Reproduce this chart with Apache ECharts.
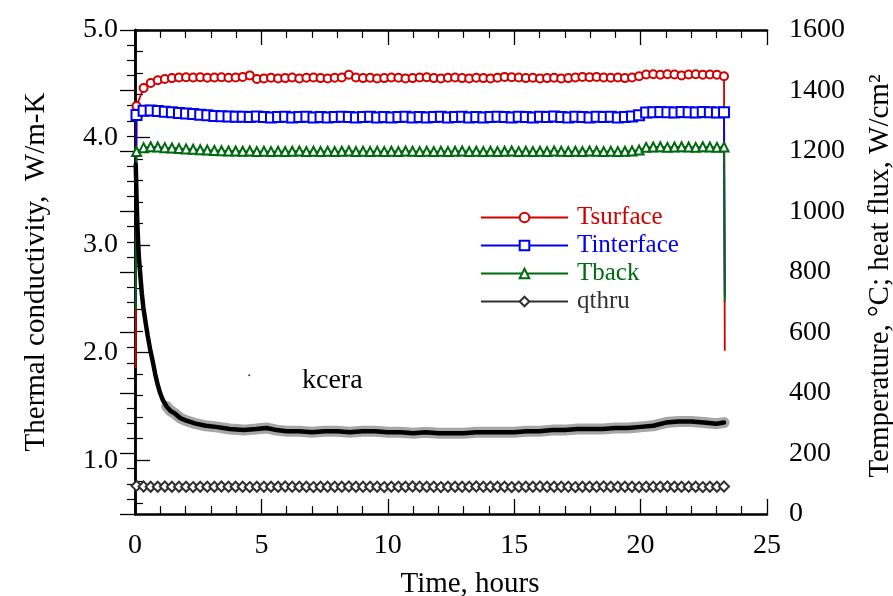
<!DOCTYPE html>
<html>
<head>
<meta charset="utf-8">
<title>kcera</title>
<script src="https://cdn.jsdelivr.net/npm/echarts@6/dist/echarts.min.js"></script>
<style>
  html, body { margin: 0; padding: 0; background: #fff; }
  #main { width: 893px; height: 596px; }
</style>
</head>
<body>
<div id="main"></div>
<script>
// marker times (hours)
var markTime = [0.06,0.34,0.62,0.90,1.18,1.46,1.74,2.02,2.30,2.58,2.86,3.14,3.42,3.70,3.98,4.26,4.54,4.82,5.10,5.38,
  5.66,5.94,6.22,6.50,6.78,7.06,7.34,7.62,7.90,8.18,8.46,8.74,9.02,9.30,9.58,9.86,10.14,10.42,10.70,10.98,
  11.26,11.54,11.82,12.10,12.38,12.66,12.94,13.22,13.50,13.78,14.06,14.34,14.62,14.90,15.18,15.46,15.74,16.02,16.30,16.58,
  16.86,17.14,17.42,17.70,17.98,18.26,18.54,18.82,19.10,19.38,19.66,19.94,20.22,20.50,20.78,21.06,21.34,21.62,21.90,22.18,
  22.46,22.74,23.02,23.30];

var tSurface = [1349,1408,1425,1434,1438,1441,1443,1444,1443,1444,1442,1443,1444,1442,1443,1445,1450,1438,1440,1442,
  1440,1441,1443,1440,1442,1443,1441,1440,1442,1443,1452,1443,1441,1442,1440,1441,1443,1442,1440,1441,
  1443,1444,1441,1440,1442,1443,1441,1440,1442,1441,1440,1442,1445,1444,1443,1441,1442,1440,1441,1442,
  1440,1441,1443,1445,1444,1445,1443,1442,1443,1441,1443,1447,1453,1454,1452,1454,1453,1450,1453,1454,
  1452,1453,1452,1447];
var tInterface = [1319,1333,1334,1332,1330,1328,1326,1324,1322,1320,1318,1316,1315,1314,1313,1313,1312,1314,1312,1311,
  1312,1313,1311,1312,1313,1311,1312,1311,1312,1313,1312,1311,1312,1313,1311,1312,1311,1312,1313,1311,
  1312,1311,1312,1313,1311,1312,1313,1311,1312,1311,1312,1313,1312,1311,1313,1312,1311,1313,1312,1314,
  1312,1311,1313,1312,1311,1313,1312,1313,1311,1312,1314,1318,1327,1328,1329,1328,1327,1329,1328,1327,
  1329,1328,1327,1328];
var tBack = [1198,1211,1214,1213,1211,1210,1208,1207,1206,1204,1203,1202,1201,1200,1200,1199,1200,1198,1199,1198,
  1199,1198,1199,1200,1198,1199,1198,1199,1198,1199,1200,1198,1199,1198,1199,1198,1199,1198,1200,1199,
  1198,1199,1198,1199,1198,1199,1200,1198,1199,1198,1199,1198,1199,1200,1198,1199,1198,1199,1198,1200,
  1199,1198,1199,1198,1200,1199,1198,1199,1198,1199,1200,1203,1212,1213,1214,1212,1213,1214,1213,1212,
  1214,1213,1212,1213];
var qThru = [93,91,90,90,91,90,90,90,89,90,90,90,91,90,90,90,89,90,90,90,
  90,91,90,90,90,89,90,90,90,90,91,90,90,90,90,89,90,90,90,91,
  90,90,90,89,90,90,90,90,91,90,90,90,90,89,90,90,90,91,90,90,
  90,90,89,90,90,90,91,90,90,90,90,89,90,90,90,91,90,90,90,90,
  89,90,90,91];

// start-up and shut-down readings (no marker)
var startTime = 0.03, endTime = 23.33;
var startVal = { Tsurface: 483, Tinterface: 690, Tback: 674 };
var endVal = { Tsurface: 540, Tinterface: 720, Tback: 700 };

// kcera, W/m-K
var kTime = [0.03,0.06,0.1,0.15,0.2,0.27,0.33,0.42,0.5,0.6,0.7,0.8,0.9,1.0,1.1,1.25,1.4,1.6,1.8,2.0,
  2.4,2.8,3.2,3.75,4.3,4.8,5.2,5.6,6.0,6.5,7.0,7.5,8.0,8.5,9.0,9.5,10,10.5,11,11.5,
  12,12.5,13,13.5,14,14.5,15,15.5,16,16.5,17,17.5,18,18.5,19,19.5,20,20.5,21,21.5,
  22,22.5,23,23.3];
var kCera = [3.75,3.45,3.15,2.9,2.75,2.55,2.42,2.28,2.16,2.03,1.92,1.8,1.7,1.62,1.56,1.5,1.46,1.43,1.39,1.37,
  1.34,1.32,1.31,1.29,1.28,1.29,1.30,1.28,1.27,1.27,1.26,1.27,1.27,1.26,1.27,1.27,1.26,1.26,1.25,1.26,
  1.25,1.25,1.25,1.26,1.26,1.26,1.26,1.27,1.27,1.28,1.28,1.29,1.29,1.29,1.30,1.30,1.31,1.32,1.35,1.36,
  1.36,1.35,1.34,1.35];
var strayPoint = [[4.52, 1.79]];

var xTicks = [0, 25, 5];
var kTicks = [1, 2, 3, 4, 5];
var kMinorTicks = [0.6,0.8,1.2,1.4,1.6,1.8,2.2,2.4,2.6,2.8,3.2,3.4,3.6,3.8,4.2,4.4,4.6,4.8];

var FONT = "'Liberation Serif', 'Times New Roman', serif";

function tempData(name, vals) {
  var d = [{ value: [startTime, startVal[name]], symbol: 'none' }];
  for (var i = 0; i < vals.length; i++) d.push([markTime[i], vals[i]]);
  d.push({ value: [endTime, endVal[name]], symbol: 'none' });
  return d;
}
function pairs(xs, ys, fromT) {
  var d = [];
  for (var i = 0; i < xs.length; i++) {
    if (fromT === undefined || xs[i] >= fromT) d.push([xs[i], ys[i]]);
  }
  return d;
}

var myChart = echarts.init(document.getElementById('main'), null, { renderer: 'canvas' });

var axisLine = { show: true, lineStyle: { color: '#000', width: 2.5 } };
var tick = { show: true, inside: true, length: 15, lineStyle: { color: '#000', width: 1.3 } };
var minorLine = { color: '#000', width: 1.2 };
var label = { color: '#000', fontFamily: FONT, fontSize: 28 };

var colors = { Tsurface: '#d00000', Tinterface: '#0000f0', Tback: '#006a10', qthru: '#303030' };

var option = {
  animation: false,
  backgroundColor: '#fff',
  grid: { left: 135, right: 126, top: 30, bottom: 82 },
  legend: {
    orient: 'vertical',
    left: 475,
    top: 200,
    itemWidth: 87,
    itemHeight: 12,
    itemGap: 3,
    textStyle: { fontFamily: FONT, fontSize: 25, lineHeight: 25, padding: [0, 0, 0, 4] },
    data: [
      { name: 'Tsurface', textStyle: { color: colors.Tsurface } },
      { name: 'Tinterface', textStyle: { color: colors.Tinterface } },
      { name: 'Tback', textStyle: { color: colors.Tback } },
      { name: 'qthru', textStyle: { color: '#333' } }
    ]
  },
  xAxis: [
    { type: 'value', position: 'bottom', min: xTicks[0], max: xTicks[1], interval: xTicks[2],
      axisLine: axisLine, axisTick: tick, minorTick: { show: true, splitNumber: 5, length: 8, lineStyle: minorLine },
      axisLabel: Object.assign({ margin: 18 }, label), splitLine: { show: false } },
    { type: 'value', position: 'top', min: xTicks[0], max: xTicks[1], interval: xTicks[2],
      axisLine: axisLine, axisTick: tick, minorTick: { show: true, splitNumber: 5, length: 8, lineStyle: minorLine },
      axisLabel: { show: false }, splitLine: { show: false } }
  ],
  yAxis: [
    { type: 'value', position: 'left', min: 0.5, max: 5,
      axisLine: axisLine,
      axisTick: Object.assign({ customValues: kTicks }, tick),
      axisLabel: Object.assign({ margin: 17, customValues: kTicks, formatter: function (v) { return v.toFixed(1); } }, label),
      splitLine: { show: false } },
    { type: 'value', position: 'right', min: 0, max: 1600, interval: 200,
      axisLine: axisLine, axisTick: tick,
      minorTick: { show: true, splitNumber: 4, length: 8, lineStyle: minorLine },
      axisLabel: Object.assign({ margin: 22, formatter: function (v) { return String(v); } }, label),
      splitLine: { show: false } },
    { type: 'value', position: 'left', min: 0.5, max: 5,
      axisLine: { show: false },
      axisTick: { show: true, inside: true, length: 8, customValues: kMinorTicks, lineStyle: minorLine },
      axisLabel: { show: false }, splitLine: { show: false } }
  ],
  series: [
    { name: 'Tsurface', type: 'line', yAxisIndex: 1, data: tempData('Tsurface', tSurface),
      symbol: 'emptyCircle', symbolSize: 8, showAllSymbol: true, color: colors.Tsurface,
      lineStyle: { width: 1.8 }, itemStyle: { borderWidth: 1 } },
    { name: 'Tinterface', type: 'line', yAxisIndex: 1, data: tempData('Tinterface', tInterface),
      symbol: 'emptyRect', symbolSize: 10, showAllSymbol: true, color: colors.Tinterface,
      lineStyle: { width: 1.8 }, itemStyle: { borderWidth: 1 } },
    { name: 'Tback', type: 'line', yAxisIndex: 1, data: tempData('Tback', tBack),
      symbol: 'emptyTriangle', symbolSize: 9, showAllSymbol: true, color: colors.Tback,
      lineStyle: { width: 1.8 }, itemStyle: { borderWidth: 1 } },
    { name: 'qthru', type: 'line', yAxisIndex: 1, data: pairs(markTime, qThru),
      symbol: 'emptyDiamond', symbolSize: 10, showAllSymbol: true, color: colors.qthru,
      lineStyle: { width: 1.8 }, itemStyle: { borderWidth: 1 } },
    // scattered dots around the kcera trace
    { name: 'kcera-halo', type: 'line', yAxisIndex: 0, data: pairs(kTime, kCera, 1.25),
      showSymbol: false, lineStyle: { color: '#000', width: 11, opacity: 0.35, cap: 'round' } },
    { name: 'kcera', type: 'line', yAxisIndex: 0, data: pairs(kTime, kCera),
      showSymbol: false, lineStyle: { color: '#000', width: 4.5, cap: 'round' } },
    { name: 'stray', type: 'scatter', yAxisIndex: 0, data: strayPoint,
      symbolSize: 2, itemStyle: { color: '#000' } }
  ],
  graphic: [
    { type: 'text', x: 36, y: 272, rotation: Math.PI / 2,
      style: { text: 'Thermal conductivity,  W/m-K', font: '29px ' + FONT, fill: '#000', align: 'center', verticalAlign: 'middle' } },
    { type: 'text', x: 880, y: 276, rotation: Math.PI / 2,
      style: { text: 'Temperature, \u00B0C; heat flux, W/cm\u00B2', font: '29px ' + FONT, fill: '#000', align: 'center', verticalAlign: 'middle' } },
    { type: 'text', x: 470, y: 584,
      style: { text: 'Time, hours', font: '29px ' + FONT, fill: '#000', align: 'center', verticalAlign: 'middle' } },
    { type: 'text', x: 302, y: 381,
      style: { text: 'kcera', font: '28px ' + FONT, fill: '#000', align: 'left', verticalAlign: 'middle' } }
  ]
};

myChart.setOption(option);
</script>
</body>
</html>
